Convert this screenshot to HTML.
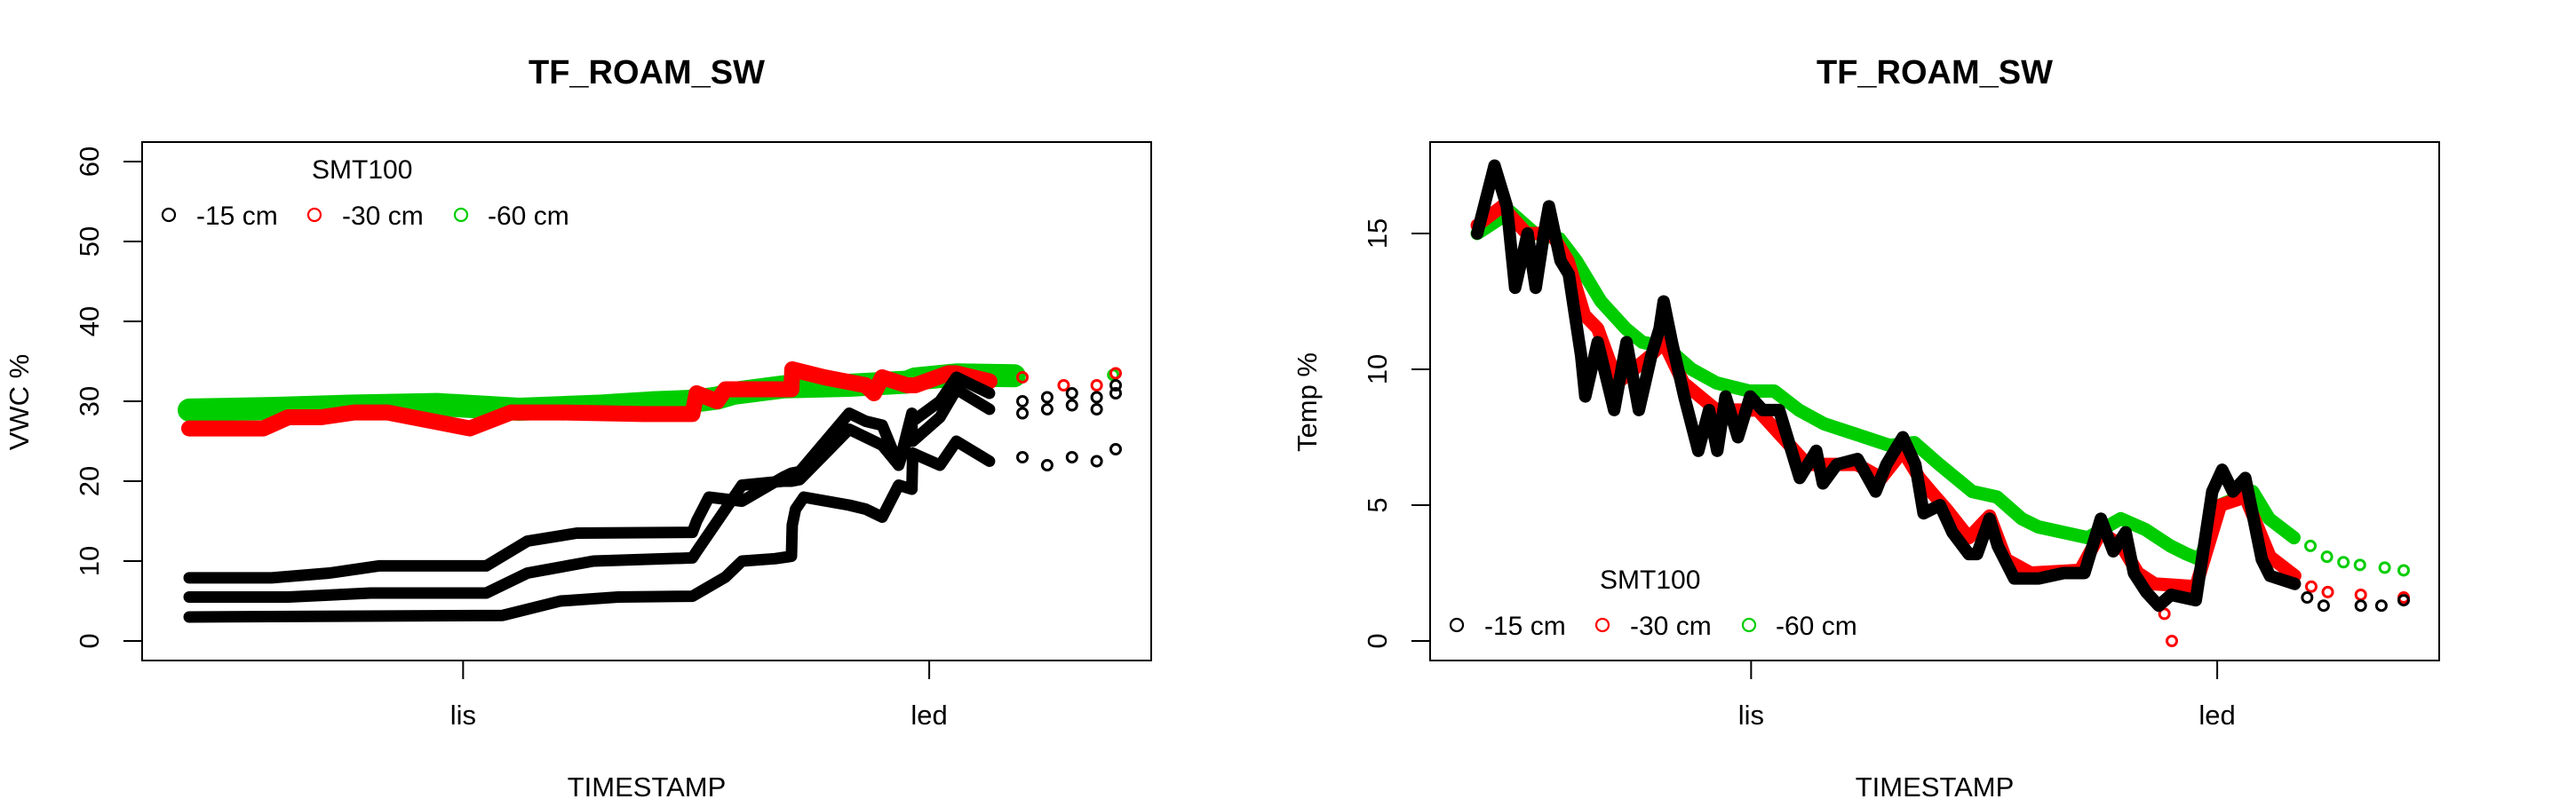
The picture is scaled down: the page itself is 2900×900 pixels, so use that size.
<!DOCTYPE html>
<html><head><meta charset="utf-8">
<style>
html,body{margin:0;padding:0;background:#fff;}
svg{display:block;font-family:"Liberation Sans",sans-serif;}
</style></head>
<body>
<svg id="chart" width="2900" height="900" viewBox="0 0 2900 900" xmlns="http://www.w3.org/2000/svg"></svg>
<script>
// ---- shared time axis (days since start) ----
const tickTimes = [33.2, 89.7];
const tickLabels = ["lis", "led"];
const timeDomain = [0, 112.3];

// ---- VWC panel data ----
const vwcYTicks = [0, 10, 20, 30, 40, 50, 60];
const vwcGreenT = [0,10,20,30,40,50,56,61,64,66,72,80,87,88,93,100,112];
const vwcGreenV = [28.9,29.1,29.4,29.6,29.0,29.4,29.8,30.0,30.4,31.0,31.8,32.0,32.4,32.8,33.3,33.2,33.3];
const vwcRedT = [0,9,12,16,20,24,34,39,45,55,61,61.5,64,65,67,72,73,73.1,77,82,83,84,87,88,92,93,97,101,106,110,112.3];
const vwcRedV = [26.6,26.6,28.0,28.0,28.6,28.6,26.6,28.6,28.6,28.4,28.4,31.0,30.0,31.5,31.5,31.5,31.5,34.0,33.0,32.0,31.0,33.0,32.0,32.0,33.5,33.5,32.5,33.0,32.0,32.0,33.5];
const vwcAT = [0,10,17,23,36,41,47,61,61.5,63,67,72,73,74,80,82,84,86,87.6,87.7,91,93,97,101,104,107,110,112.3];
const vwcAV = [7.9,7.9,8.5,9.4,9.4,12.5,13.5,13.6,15.0,18.0,17.5,20.5,21.0,21.2,28.5,27.5,27.0,22.0,28.5,27.5,30.0,33.0,31.0,30.0,30.5,31.0,30.5,32.0];
const vwcBT = [0,12,22,36,41,49,61,61.5,67,72,73,74,80,82,84,86,87.6,87.7,91,93,97,101,104,107,110,112.3];
const vwcBV = [5.5,5.5,6.0,6.0,8.5,10.0,10.4,11.2,19.5,20.0,20.0,20.2,26.5,25.5,24.5,22.0,27.0,25.0,28.0,31.5,29.0,28.5,29.0,29.5,29.0,31.0];
const vwcCT = [0,38,45,52,61,65,67,71,73,73.1,73.5,74.5,80,82,84,86,87.6,87.7,91,93,97,101,104,107,110,112.3];
const vwcCV = [3.0,3.2,5.0,5.5,5.6,8.0,10.0,10.3,10.6,14.5,16.5,18.0,17.0,16.5,15.5,19.5,19.0,23.5,22.0,25.0,22.5,23.0,22.0,23.0,22.5,24.0];

// ---- Temp panel data ----
const tmpYTicks = [0, 5, 10, 15];
const tmpGreenT = [0,2,4,7,10,12,15,18,20,23,26,29,33,36,39,42,47,50,53,56,60,63,66,68,71,74,78,81,84,86,87.6,90,94,96,99,101,103,105,107,110,112.3];
const tmpGreenV = [15.0,15.4,15.8,15.0,14.8,14.0,12.5,11.5,11.0,10.8,10.0,9.5,9.2,9.2,8.5,8.0,7.5,7.2,7.3,6.5,5.5,5.3,4.5,4.2,4.0,3.8,4.5,4.1,3.5,3.2,3.0,5.0,5.5,4.5,3.8,3.5,3.1,2.9,2.8,2.7,2.6];
const tmpRedT = [0,3,6,9,11,13,14.6,17,21,22.6,25,29,34,37,40,46,49,51.6,53.6,55,57,59.6,62.1,64.1,67.1,73.1,75.6,78.1,80.1,82.1,87.1,90.1,93.1,96.1,99.1,101.1,103.1,107.1,112.3];
const tmpRedV = [15.3,16.0,15.0,15.0,14.0,12.0,11.5,9.5,10.5,11.0,9.5,8.5,8.5,7.5,6.5,6.5,6.0,7.0,6.0,5.5,4.8,3.8,4.6,3.0,2.5,2.6,4.0,3.5,2.5,2.1,2.0,5.0,5.3,3.1,2.4,2.0,1.8,1.7,1.6];
const tmpRedOutT = [83.3, 84.2];
const tmpRedOutV = [1.0, 0.0];
const tmpBlackT = [0,2.1,3.6,4.6,6.1,7.1,8.1,8.7,10.1,11.1,12.6,13.1,14.6,16.6,18.1,19.6,21.1,22.1,22.6,23.6,25.1,26.8,28.1,29.1,30.1,31.6,33.1,34.6,36.6,39.1,41.1,41.9,43.6,46.1,48.3,49.6,51.6,53.1,54.1,56.1,57.6,59.6,60.6,62.1,63.1,65.1,68.1,71.1,73.6,75.6,77.1,78.6,79.6,81.1,82.6,84.1,87.1,89.1,90.3,91.6,93.1,95.1,96.1,99.1,100.6,102.6,107.1,109.6,112.3];
const tmpBlackV = [15.0,17.5,16.0,13.0,15.0,13.0,15.0,16.0,14.0,13.5,10.5,9.0,11.0,8.5,11.0,8.5,10.5,11.5,12.5,11.0,9.0,7.0,8.5,7.0,9.0,7.5,9.0,8.5,8.5,6.0,7.0,5.8,6.5,6.7,5.5,6.5,7.5,6.5,4.7,5.0,4.0,3.2,3.2,4.5,3.5,2.3,2.3,2.5,2.5,4.5,3.3,4.0,2.5,1.8,1.3,1.7,1.5,5.5,6.3,5.5,6.0,3.0,2.4,2.1,1.6,1.3,1.3,1.3,1.5];

const svg = document.getElementById('chart');
const NS = 'http://www.w3.org/2000/svg';
function mk(tag, attrs, parent){
  const e = document.createElementNS(NS, tag);
  for (const k in attrs) e.setAttribute(k, attrs[k]);
  (parent||svg).appendChild(e);
  return e;
}

function buildPanel(ox, title, yLabel, yTicks, yMin, yMax, series, legendY, pname){
  const g = mk('g', {});
  
  
  const L = ox + 160, R = ox + 1296, T = 160, B = 744;
  const yPx0 = 722, yPxMaxRef = (pname === 'vwc-panel') ? 182 : 263;
  const yRefVal = (pname === 'vwc-panel') ? 60 : 15;
  const yScale = v => yPx0 + (v - 0) * (yPxMaxRef - yPx0) / yRefVal;
  const xScale = t => ox + 213 + (t - timeDomain[0]) * (1043 / (timeDomain[1] - timeDomain[0]));

  const tt = mk('text', {x: ox + 728, y: 94, 'text-anchor': 'middle', 'font-size': 38, 'font-weight': 'bold'}, g);
  tt.textContent = title;
  
  

  const sg = mk('g', {}, g);
  
  
  series.forEach(s => {
    const pts = [];
    for (let i = 0; i < s.t.length; i++) if (s.t[i] <= s.denseEnd) pts.push(xScale(s.t[i]).toFixed(1) + ',' + yScale(s.v[i]).toFixed(1));
    if (pts.length > 1) {
      const pl = mk('polyline', {points: pts.join(' '), fill: 'none', stroke: s.color, 'stroke-width': s.w, 'stroke-linejoin': 'round', 'stroke-linecap': 'round'}, sg);
      
      
    }
    for (let i = 0; i < s.t.length; i++) {
      if (s.t[i] > s.denseEnd) {
        const c = mk('circle', {cx: xScale(s.t[i]), cy: yScale(s.v[i]), r: 5.5, fill: 'none', stroke: s.color, 'stroke-width': 3}, sg);
        
        
      }
    }
  });

  const box = mk('rect', {x: L, y: T, width: R - L, height: B - T, fill: 'none', stroke: '#000', 'stroke-width': 2}, g);
  
  

  yTicks.forEach(v => {
    const y = yScale(v);
    const ln = mk('line', {x1: L - 21, x2: L, y1: y, y2: y, stroke: '#000', 'stroke-width': 2}, g);
    
    
    const tx = mk('text', {x: ox + 111, y: y, 'text-anchor': 'middle', 'font-size': 31, transform: `rotate(-90 ${ox + 111} ${y})`}, g);
    tx.textContent = String(v);
    
    
  });
  const yl = mk('text', {x: ox + 32, y: 453, 'text-anchor': 'middle', 'font-size': 31, transform: `rotate(-90 ${ox + 32} 453)`}, g);
  yl.textContent = yLabel;
  
  

  tickTimes.forEach((t, i) => {
    const x = xScale(t);
    const ln = mk('line', {x1: x, x2: x, y1: B, y2: B + 21, stroke: '#000', 'stroke-width': 2}, g);
    
    
    const tx = mk('text', {x: x, y: 816, 'text-anchor': 'middle', 'font-size': 31}, g);
    tx.textContent = tickLabels[i];
    
    
  });
  const xl = mk('text', {x: ox + 728, y: 897, 'text-anchor': 'middle', 'font-size': 31}, g);
  xl.textContent = 'TIMESTAMP';
  
  

  const lg = mk('g', {}, g);
  
  
  const lt = mk('text', {x: ox + 351, y: legendY - 41, 'font-size': 30}, lg);
  lt.textContent = 'SMT100';
  
  
  const entries = [['-15 cm', '#000', 190, 221], ['-30 cm', '#ff0000', 354, 385], ['-60 cm', '#00cd00', 519, 549]];
  entries.forEach(e => {
    const c = mk('circle', {cx: ox + e[2], cy: legendY, r: 7, fill: 'none', stroke: e[1], 'stroke-width': 2.2}, lg);
    
    
    const tx = mk('text', {x: ox + e[3], y: legendY + 11, 'font-size': 30}, lg);
    tx.textContent = e[0];
    
    
  });
}

buildPanel(0, 'TF_ROAM_SW', 'VWC %', vwcYTicks, 0, 60, [
  {name: 'vwc-60cm', t: vwcGreenT, v: vwcGreenV, color: '#00cd00', w: 26, denseEnd: 100},
  {name: 'vwc-30cm', t: vwcRedT, v: vwcRedV, color: '#ff0000', w: 18, denseEnd: 100},
  {name: 'vwc-15cm-a', t: vwcAT, v: vwcAV, color: '#000', w: 13, denseEnd: 100},
  {name: 'vwc-15cm-b', t: vwcBT, v: vwcBV, color: '#000', w: 13, denseEnd: 100},
  {name: 'vwc-15cm-c', t: vwcCT, v: vwcCV, color: '#000', w: 13, denseEnd: 100}
], 242, 'vwc-panel');

buildPanel(1450, 'TF_ROAM_SW', 'Temp %', tmpYTicks, 0, 15, [
  {name: 'temp-60cm', t: tmpGreenT, v: tmpGreenV, color: '#00cd00', w: 15, denseEnd: 100},
  {name: 'temp-30cm', t: tmpRedT, v: tmpRedV, color: '#ff0000', w: 15, denseEnd: 100},
  {name: 'temp-30cm-outlier', t: tmpRedOutT, v: tmpRedOutV, color: '#ff0000', w: 0, denseEnd: -1},
  {name: 'temp-15cm', t: tmpBlackT, v: tmpBlackV, color: '#000', w: 14, denseEnd: 100}
], 704, 'temp-panel');
</script>
</body></html>
